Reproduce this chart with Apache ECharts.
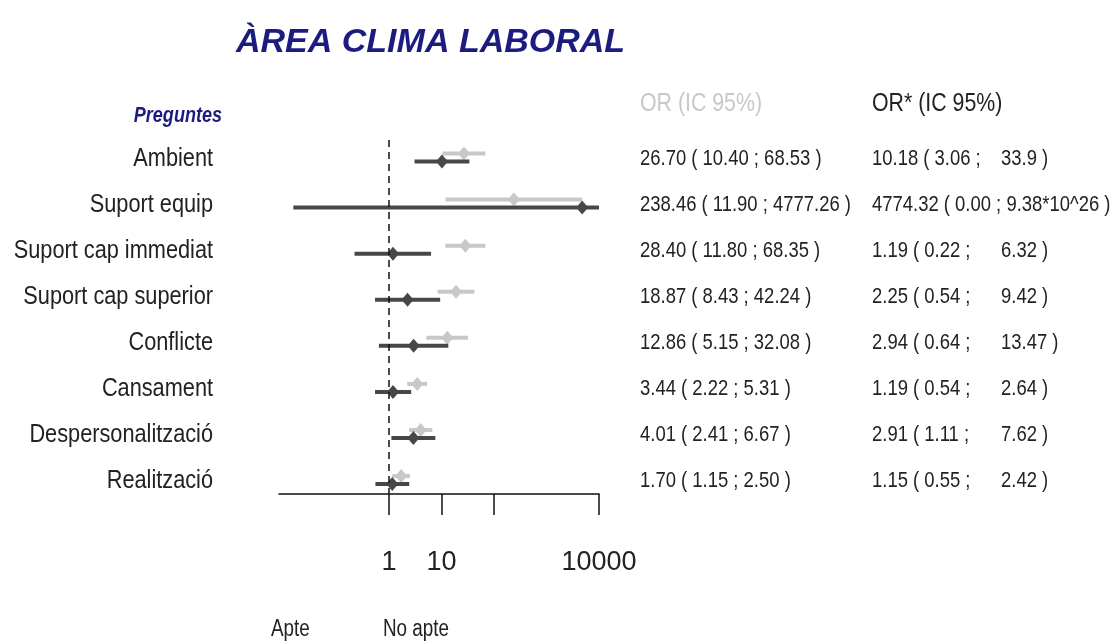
<!DOCTYPE html>
<html>
<head>
<meta charset="utf-8">
<script src="https://cdn.jsdelivr.net/npm/echarts@6/dist/echarts.min.js"></script>
<style>
html, body { margin: 0; padding: 0; background: #fff; }
#chart { width: 1111px; height: 643px; }
</style>
</head>
<body>
<div id="chart"></div>
<script>
var preguntes = ['Ambient', 'Suport equip', 'Suport cap immediat', 'Suport cap superior', 'Conflicte', 'Cansament', 'Despersonalització', 'Realització'];
// OR cru (gris clar)
var orCru = [26.70, 238.46, 28.40, 18.87, 12.86, 3.44, 4.01, 1.70];
var infCru = [10.40, 11.90, 11.80, 8.43, 5.15, 2.22, 2.41, 1.15];
var supCru = [68.53, 4777.26, 68.35, 42.24, 32.08, 5.31, 6.67, 2.50];
// OR ajustat (gris fosc)
var orAdj = [10.18, 4774.32, 1.19, 2.25, 2.94, 1.19, 2.91, 1.15];
var infAdj = [3.06, 0.00, 0.22, 0.54, 0.64, 0.54, 1.11, 0.55];
var supAdj = [33.9, 9.38e26, 6.32, 9.42, 13.47, 2.64, 7.62, 2.42];
// textos de la taula
var textCru = ['26.70 ( 10.40 ; 68.53 )', '238.46 ( 11.90 ; 4777.26 )', '28.40 ( 11.80 ; 68.35 )', '18.87 ( 8.43 ; 42.24 )', '12.86 ( 5.15 ; 32.08 )', '3.44 ( 2.22 ; 5.31 )', '4.01 ( 2.41 ; 6.67 )', '1.70 ( 1.15 ; 2.50 )'];
var textAdjA = ['10.18 ( 3.06 ;', '4774.32 ( 0.00 ; 9.38*10^26 )', '1.19 ( 0.22 ;', '2.25 ( 0.54 ;', '2.94 ( 0.64 ;', '1.19 ( 0.54 ;', '2.91 ( 1.11 ;', '1.15 ( 0.55 ;'];
var textAdjB = ['33.9 )', '', '6.32 )', '9.42 )', '13.47 )', '2.64 )', '7.62 )', '2.42 )'];
var xTicks = [1, 10, 100, 10000];
var xLabels = [1, 10, 10000];

var FONT = "'Liberation Sans', Arial, sans-serif";
var NARROW = 0.82; // no hi ha Arial Narrow: s'estreny el text
var NAVY = '#1c1c80';
var CLAR = '#c8c8c8';
var FOSC = '#474747';
var plotFloor = 0.015; // finestra del gràfic (retall dels IC)
var plotCeil = 10000;

function buildData(or, inf, sup) {
	var d = [];
	for (var i = 0; i < or.length; i++) {
		d.push([or[i], inf[i], sup[i], i]);
	}
	return d;
}

function narrowText(x, y, txt, size, color, align, weight) {
	return {
		type: 'text',
		x: x, y: y,
		scaleX: NARROW,
		style: {
			x: 0, y: 0, text: txt, fill: color,
			font: (weight || '') + ' ' + size + 'px ' + FONT,
			verticalAlign: 'middle', align: align || 'left'
		}
	};
}

function forest(color, dy, texts) {
	return function (params, api) {
		var row = api.value(3);
		var lo = Math.max(api.value(1), plotFloor);
		var hi = Math.min(api.value(2), plotCeil);
		var pLo = api.coord([lo, row]);
		var pHi = api.coord([hi, row]);
		var pc = api.coord([api.value(0), row]);
		var y = pc[1] + dy;
		var children = [{
			type: 'line',
			shape: { x1: pLo[0], y1: y, x2: pHi[0], y2: y },
			style: { stroke: color, lineWidth: 4 }
		}, {
			type: 'polygon',
			shape: { points: [[pc[0], y - 7], [pc[0] + 6, y], [pc[0], y + 7], [pc[0] - 6, y]] },
			style: { fill: color }
		}];
		texts.forEach(function (t) {
			children.push(narrowText(t.x, pc[1], t.arr[params.dataIndex], t.size, '#222', t.align));
		});
		return { type: 'group', children: children };
	};
}

var chart = echarts.init(document.getElementById('chart'));
chart.setOption({
	animation: false,
	title: [{
		text: 'ÀREA CLIMA LABORAL',
		left: 231, top: 21,
		textStyle: { color: NAVY, fontSize: 34, fontWeight: 'bold', fontStyle: 'italic', fontFamily: FONT }
	}],
	graphic: [
		narrowText(222, 116, 'Preguntes', 22, NAVY, 'right', 'italic bold'),
		narrowText(640, 104, 'OR (IC 95%)', 26, CLAR),
		narrowText(872, 104, 'OR* (IC 95%)', 26, '#222'),
		narrowText(271, 630, 'Apte', 23, '#222'),
		narrowText(383, 630, 'No apte', 23, '#222')
	],
	grid: { left: 279, right: 512, top: 140, bottom: 643 - 494, outerBoundsMode: 'none' },
	xAxis: {
		type: 'log',
		logBase: 10,
		min: 0.008,
		max: 10000,
		splitLine: { show: false },
		axisLine: { onZero: false, lineStyle: { color: '#111', width: 1.5 } },
		axisTick: { customValues: xTicks, length: 21, lineStyle: { color: '#111', width: 1.5 } },
		axisLabel: {
			customValues: xLabels, margin: 55, color: '#222', fontSize: 27, fontFamily: FONT,
			formatter: function (v) { return String(v); }
		},
		minorTick: { show: false }
	},
	yAxis: {
		type: 'value',
		inverse: true,
		min: -0.4,
		max: 7.28,
		splitLine: { show: false },
		axisLine: { show: false },
		axisTick: { show: false },
		axisLabel: { show: false }
	},
	series: [{
		type: 'custom',
		name: 'OR',
		renderItem: forest(CLAR, -5, [
			{ x: 213, arr: preguntes, size: 26.5, align: 'right' },
			{ x: 640, arr: textCru, size: 22.5 }
		]),
		encode: { x: 0, y: 3 },
		data: buildData(orCru, infCru, supCru),
		z: 2,
		markLine: {
			silent: true,
			symbol: 'none',
			label: { show: false },
			lineStyle: { color: '#111', type: [7, 5], width: 1.5 },
			data: [{ xAxis: 1 }]
		}
	}, {
		type: 'custom',
		name: 'OR*',
		renderItem: forest(FOSC, 3, [
			{ x: 872, arr: textAdjA, size: 22.5 },
			{ x: 1001, arr: textAdjB, size: 22.5 }
		]),
		encode: { x: 0, y: 3 },
		data: buildData(orAdj, infAdj, supAdj),
		z: 3
	}]
});
</script>
</body>
</html>
